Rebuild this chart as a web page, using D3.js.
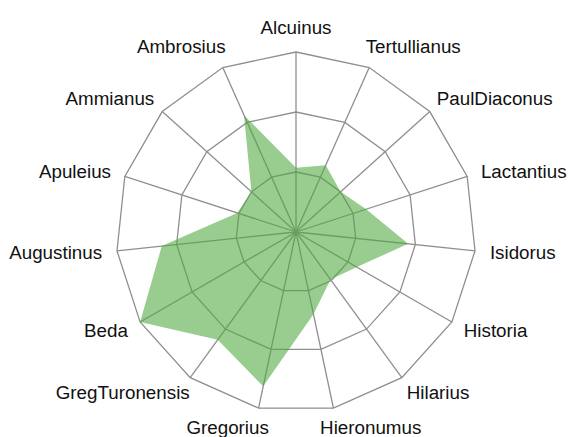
<!DOCTYPE html>
<html lang="en">
  <head>
    <meta charset="utf-8">
    <title>Radar</title>
    <script src="https://cdn.jsdelivr.net/npm/d3@7"></script>
    <style>
      body { margin: 0; background: #fff; }
      text { font-family: "Liberation Sans", Arial, Helvetica, sans-serif; }
    </style>
  </head>
  <body>
    <div id="chart"></div>
    <script type="text/javascript">
      let authors = ['Alcuinus', 'Tertullianus', 'PaulDiaconus', 'Lactantius', 'Isidorus',
                     'Historia', 'Hilarius', 'Hieronumus', 'Gregorius', 'GregTuronensis',
                     'Beda', 'Augustinus', 'Apuleius', 'Ammianus', 'Ambrosius'];
      let values = [10.7, 12.2, 10, 12.3, 18.8,
                    11.7, 9.8, 14, 26.3, 22.2,
                    30, 22.5, 10.3, 10, 21.3];
      let rings = [10, 20, 30];

      let width = 570;
      let height = 437;
      let cx = 296, cy = 232;
      let radius = 180;

      let svg = d3.select('#chart').append('svg')
        .attr('width', width)
        .attr('height', height)

      let scale_r = d3.scaleLinear()
          .domain([0, 30])
          .range([0, radius])
      let step = 2 * Math.PI / authors.length
      let angle = (i) => i * step

      let g = svg.append('g')
        .attr('transform', `translate(${cx},${cy})`)

      // web: rings and spokes
      let ring = d3.lineRadial()
        .angle((d, i) => angle(i))
        .radius((d) => d)
        .curve(d3.curveLinearClosed)

      g.selectAll('.ring')
        .data(rings)
        .enter()
        .append('path')
        .attr('class', 'ring')
        .attr('d', (v) => ring(authors.map(() => scale_r(v))))
        .attr('fill', 'none')
        .attr('stroke', '#8f8f8f')
        .attr('stroke-width', 1.3)

      g.selectAll('.spoke')
        .data(authors)
        .enter()
        .append('line')
        .attr('class', 'spoke')
        .attr('x1', 0)
        .attr('y1', 0)
        .attr('x2', (d, i) => scale_r(30) * Math.sin(angle(i)))
        .attr('y2', (d, i) => -scale_r(30) * Math.cos(angle(i)))
        .attr('stroke', '#8f8f8f')
        .attr('stroke-width', 1.3)

      // data area
      let area = d3.lineRadial()
        .angle((d, i) => angle(i))
        .radius((d) => scale_r(d))
        .curve(d3.curveLinearClosed)

      g.append('path')
        .attr('d', area(values))
        .attr('fill', 'rgb(80,168,64)')
        .attr('fill-opacity', 0.58)
        .attr('stroke', 'none')

      // labels, pushed out past the outer ring
      let labelR = scale_r(30) + 15
      let labels = g.selectAll('.label')
        .data(authors)
        .enter()
        .append('text')
        .attr('class', 'label')
        .text((d) => d)
        .attr('font-size', '18.8px')
        .attr('fill', '#111')
        .attr('dy', '0.35em')

      labels.each(function (d, i) {
        let s = Math.sin(angle(i)), c = Math.cos(angle(i))
        let w = this.getComputedTextLength()
        let a = 0.5 - 0.5 * Math.sign(s) * Math.pow(Math.abs(s), 0.25)
        if (Math.abs(s) < 1e-6) a = 0.5
        let lift = c > 0 ? 10 : 4.5
        d3.select(this)
          .attr('x', labelR * s - a * w)
          .attr('y', -labelR * c - lift * Math.pow(c, 3))
      })
    </script>
  </body>
</html>
